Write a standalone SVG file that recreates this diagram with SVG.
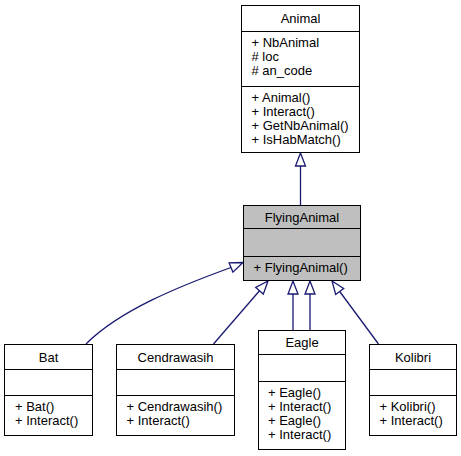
<svg xmlns="http://www.w3.org/2000/svg" width="461" height="456" viewBox="0 0 461 456">
<style>
.box{fill:#ffffff;stroke:#000000;stroke-width:1}
.sel{fill:#bfbfbf;stroke:#000000;stroke-width:1}
.sep{stroke:#000000;stroke-width:1}
text{font-family:"Liberation Sans",Arial,sans-serif;font-size:13px;fill:#000000}
.c{text-anchor:middle}
.edge{fill:none;stroke:#191970;stroke-width:1.3}
.head{fill:#ffffff;stroke:#191970;stroke-width:1.3}
</style>
<rect width="461" height="456" fill="#ffffff"/>
<g id="connectors">
<path class="edge" d="M300.5,205 L300.5,166"/>
<polygon class="head" points="300.5,153 295.5,166 305.5,166"/>
<path class="edge" d="M86,344 C120,310 180,286 231,267.5"/>
<polygon class="head" points="243,262.5 229.1,262.9 232.9,272.1"/>
<path class="edge" d="M213.5,344 L259.5,290.8"/>
<polygon class="head" points="268,281 255.7,287.5 263.3,294.1"/>
<path class="edge" d="M293,330 L293,294"/>
<polygon class="head" points="293,281 288,294 298,294"/>
<path class="edge" d="M310,330 L310,294"/>
<polygon class="head" points="310,281 305,294 315,294"/>
<path class="edge" d="M378.5,344 L339.7,291.5"/>
<polygon class="head" points="332,281 343.7,288.5 335.7,294.5"/>
</g>
<g id="Animal">
<rect class="box" x="241.5" y="5.5" width="118" height="147"/>
<line class="sep" x1="241.5" y1="31.5" x2="359.5" y2="31.5"/>
<line class="sep" x1="241.5" y1="86.5" x2="359.5" y2="86.5"/>
<text class="c" x="300.5" y="23">Animal</text>
<text x="251.5" y="47">+ NbAnimal</text>
<text x="251.5" y="61"># loc</text>
<text x="251.5" y="75"># an_code</text>
<text x="251.5" y="102">+ Animal()</text>
<text x="251.5" y="116">+ Interact()</text>
<text x="251.5" y="130">+ GetNbAnimal()</text>
<text x="251.5" y="144">+ IsHabMatch()</text>
</g>
<g id="FlyingAnimal">
<rect class="sel" x="243.5" y="205.5" width="117" height="75"/>
<line class="sep" x1="243.5" y1="228.5" x2="360.5" y2="228.5"/>
<line class="sep" x1="243.5" y1="256.5" x2="360.5" y2="256.5"/>
<text class="c" x="302" y="222">FlyingAnimal</text>
<text x="253.5" y="271.5">+ FlyingAnimal()</text>
</g>
<g id="Bat">
<rect class="box" x="4.5" y="344.5" width="88" height="91"/>
<line class="sep" x1="4.5" y1="369.5" x2="92.5" y2="369.5"/>
<line class="sep" x1="4.5" y1="395.5" x2="92.5" y2="395.5"/>
<text class="c" x="48.5" y="362">Bat</text>
<text x="15" y="411">+ Bat()</text>
<text x="15" y="425">+ Interact()</text>
</g>
<g id="Cendrawasih">
<rect class="box" x="116.5" y="344.5" width="118" height="91"/>
<line class="sep" x1="116.5" y1="369.5" x2="234.5" y2="369.5"/>
<line class="sep" x1="116.5" y1="395.5" x2="234.5" y2="395.5"/>
<text class="c" x="175.5" y="362">Cendrawasih</text>
<text x="126.5" y="411">+ Cendrawasih()</text>
<text x="126.5" y="425">+ Interact()</text>
</g>
<g id="Eagle">
<rect class="box" x="258.5" y="330.5" width="87" height="119"/>
<line class="sep" x1="258.5" y1="354.5" x2="345.5" y2="354.5"/>
<line class="sep" x1="258.5" y1="381.5" x2="345.5" y2="381.5"/>
<text class="c" x="302" y="347">Eagle</text>
<text x="268" y="397">+ Eagle()</text>
<text x="268" y="411">+ Interact()</text>
<text x="268" y="425">+ Eagle()</text>
<text x="268" y="439">+ Interact()</text>
</g>
<g id="Kolibri">
<rect class="box" x="369.5" y="344.5" width="87" height="91"/>
<line class="sep" x1="369.5" y1="369.5" x2="456.5" y2="369.5"/>
<line class="sep" x1="369.5" y1="395.5" x2="456.5" y2="395.5"/>
<text class="c" x="413" y="362">Kolibri</text>
<text x="379.5" y="411">+ Kolibri()</text>
<text x="379.5" y="425">+ Interact()</text>
</g>
</svg>
